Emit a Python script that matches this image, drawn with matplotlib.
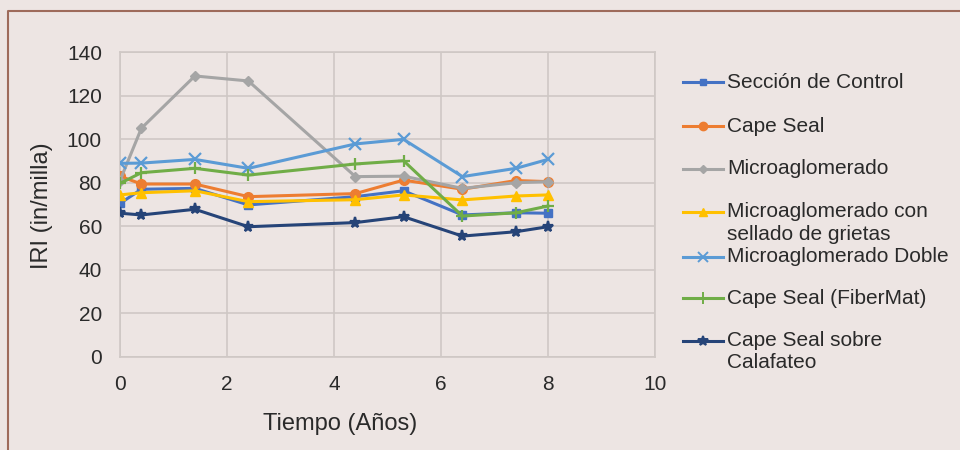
import matplotlib
matplotlib.use("Agg")
from matplotlib import pyplot as plt
from matplotlib.lines import Line2D

plt.rcParams['font.family'] = ['Liberation Sans', 'DejaVu Sans']

# Tiempo (Años)
years = [0, 0.4, 1.4, 2.4, 4.4, 5.3, 6.4, 7.4, 8.0]

control = [70.5, 77, 77.4, 69.8, 73.6, 76.3, 65.2, 66.2, 66]
cape_seal = [83, 79.4, 79.4, 73.6, 75, 81.2, 77, 81, 80.5]
micro = [81, 105, 129, 126.7, 82.8, 83, 77.4, 80, 80.5]
micro_sellado = [74.4, 75.4, 76.3, 71.3, 72.2, 74.4, 72.1, 73.9, 74.4]
micro_doble = [88.9, 89, 90.7, 86.6, 97.8, 99.9, 82.8, 86.6, 90.7]
fibermat = [79.7, 84.6, 86.6, 83.5, 88.6, 90.1, 64.7, 66.2, 69.3]
calafateo = [66, 65.2, 67.8, 59.8, 61.7, 64.4, 55.5, 57.5, 59.8]

names = ['Sección de Control', 'Cape Seal', 'Microaglomerado',
         'Microaglomerado con\nsellado de grietas', 'Microaglomerado Doble',
         'Cape Seal (FiberMat)', 'Cape Seal sobre\nCalafateo']
series = [control, cape_seal, micro, micro_sellado, micro_doble, fibermat, calafateo]

colors = ['#4472C4', '#ED7D31', '#A5A5A5', '#FFC000', '#5B9BD5', '#70AD47', '#264478']
markers = ['s', 'o', 'D', '^', 'x', '+', '*']
msizes = [6, 7, 5, 7, 8, 9, 8]

bg = '#EDE5E3'
grid_c = '#CFC8C5'
text_c = '#2A2A2A'
W, H = 960, 450

fig = plt.figure(figsize=(9.6, 4.5), dpi=100, facecolor=bg)
ax = fig.add_axes([120 / W, 1 - 357 / H, (655 - 120) / W, (357 - 52) / H])
ax.set_facecolor(bg)

for vals, c, m, ms in zip(series, colors, markers, msizes):
    ax.plot(years, vals, color=c, marker=m, markersize=ms, linewidth=2.2,
            markeredgewidth=1.6 if m in ('x', '+', '*') else 1.0, zorder=3)

ax.set_xlim(0, 10)
ax.set_ylim(0, 140)
ax.set_xticks(range(0, 11, 2))
ax.set_yticks(range(0, 141, 20))
ax.grid(True, color=grid_c, linewidth=1.2)
ax.set_axisbelow(True)
for s in ax.spines.values():
    s.set_color(grid_c)
    s.set_linewidth(1.2)
ax.tick_params(length=0, labelsize=15, colors=text_c)
ax.tick_params(axis='y', pad=13)
ax.tick_params(axis='x', pad=13)

fig.text(42 / W, 1 - 206 / H, 'IRI (in/milla)', rotation=90, ha='center', va='center',
         fontsize=17, color=text_c)
fig.text(340 / W, 1 - 424 / H, 'Tiempo (Años)', ha='center', va='center',
         fontsize=17, color=text_c)

# leyenda a mano para imitar la de Excel
legend_rows = [82, 126, 169, 212, 257, 298, 341]
for name, c, m, ms, yp in zip(names, colors, markers, msizes, legend_rows):
    y = 1 - yp / H
    fig.add_artist(Line2D([683 / W, 723 / W], [y, y], color=c, linewidth=2.2))
    fig.add_artist(Line2D([703 / W], [y], color=c, marker=m, markersize=ms - 1,
                          markeredgewidth=1.4 if m in ('x', '+', '*') else 1.0))
    for k, line in enumerate(name.split('\n')):
        fig.text(727 / W, 1 - (yp + 22 * k) / H, line, ha='left', va='center',
                 fontsize=15, color=text_c)

# marco marrón
fig.add_artist(Line2D([8 / W, 8 / W, 1], [0, 1 - 11 / H, 1 - 11 / H],
                      color='#9E6B5B', linewidth=1.5))

fig.savefig('out.png', dpi=100, facecolor=bg)
